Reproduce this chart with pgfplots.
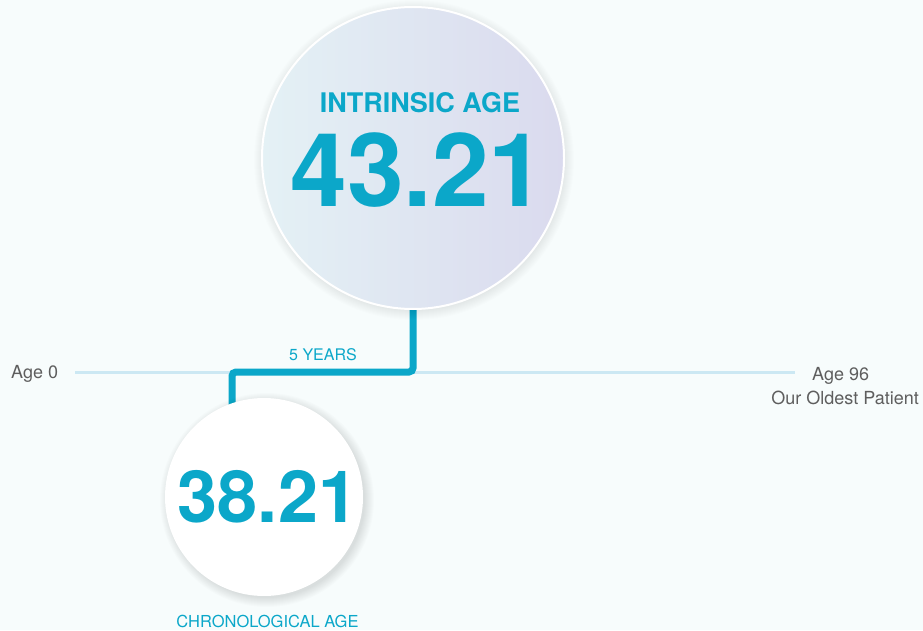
\documentclass[border=0pt]{standalone}
\usepackage{pgfplots}
\pgfplotsset{compat=1.18}
\usepackage{fontspec}
\setmainfont{TeX Gyre Heros}
\definecolor{bg}{HTML}{F7FCFC}
\definecolor{cy}{HTML}{0BA7C9}
\definecolor{tl}{HTML}{CCE8F3}
\definecolor{gl}{HTML}{E4F1F5}
\definecolor{gr}{HTML}{DADAEE}
\definecolor{txt}{HTML}{5E5E5E}
\begin{document}
\begin{tikzpicture}
\begin{axis}[x=1pt,y=1pt,xmin=0,xmax=923,ymin=0,ymax=630,y dir=reverse,
  hide axis,scale only axis,clip=false]
\fill[bg] (axis cs:0,0) rectangle (axis cs:923,630);
% timeline Age 0 .. Age 96
\addplot[tl,line width=3pt] coordinates {(75,372) (795,372)};
% connector between the two ages (5 years)
\addplot[cy,line width=7pt,rounded corners=4pt] coordinates {(413,300) (413,372) (232,372) (232,420)};
% soft shadows
\pgfplotsinvokeforeach{1,...,10}{
  \fill[black,opacity=0.006] (axis cs:414,160) circle[radius=150pt+#1pt];
  \fill[black,opacity=0.011] (axis cs:267,500) circle[radius=97pt+#1pt];
}
% intrinsic age circle
\shade[left color=gl,right color=gr] (axis cs:413,158) circle[radius=151pt];
\draw[white,line width=2pt] (axis cs:413,158) circle[radius=151pt];
% chronological age circle
\fill[white] (axis cs:264,497) circle[radius=99pt];
% texts
\node[cy,anchor=base,font=\fontsize{27}{27}\selectfont\bfseries] at (axis cs:420,113) {INTRINSIC AGE};
\node[cy,anchor=base,font=\fontsize{102}{102}\selectfont\bfseries] at (axis cs:418,207) {43.21};
\node[cy,anchor=base,font=\fontsize{72}{72}\selectfont\bfseries] at (axis cs:268,522) {38.21};
\node[cy,anchor=base,font=\fontsize{16.5}{16.5}\selectfont] at (axis cs:267.5,627) {CHRONOLOGICAL AGE};
\node[cy,anchor=base,font=\fontsize{16}{16}\selectfont] at (axis cs:323,360) {5 YEARS};
\node[txt,anchor=base west,font=\fontsize{18}{18}\selectfont,inner sep=0pt] at (axis cs:11,378) {Age 0};
\node[txt,anchor=base west,font=\fontsize{18}{18}\selectfont,inner sep=0pt] at (axis cs:812,380) {Age 96};
\node[txt,anchor=base east,font=\fontsize{18}{18}\selectfont,inner sep=0pt] at (axis cs:919,404) {Our Oldest Patient};
\end{axis}
\end{tikzpicture}
\end{document}
